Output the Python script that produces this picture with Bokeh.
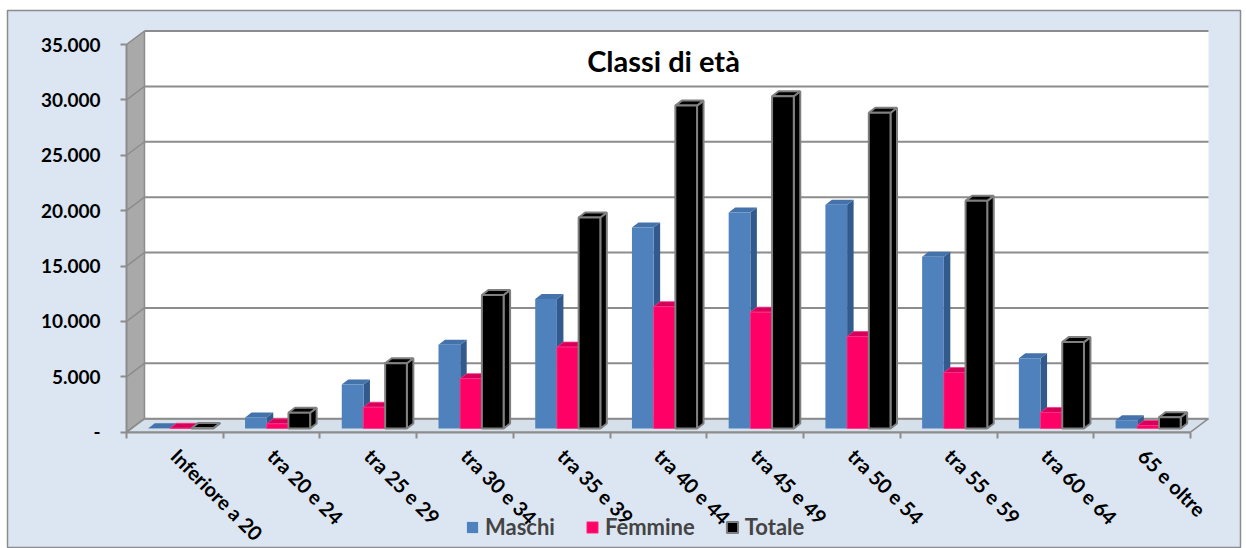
import math
from bokeh.plotting import figure
from bokeh.models import Range1d, FixedTicker, Legend, LegendItem, Label
from bokeh.embed import file_html
from bokeh.resources import INLINE

# ---------------- data ----------------
categories = ["Inferiore a 20", "tra 20 e 24", "tra 25 e 29", "tra 30 e 34", "tra 35 e 39",
              "tra 40 e 44", "tra 45 e 49", "tra 50 e 54", "tra 55 e 59", "tra 60 e 64", "65 e oltre"]
series_names = ["Maschi", "Femmine", "Totale"]
maschi = [30, 1000, 3970, 7550, 11700, 18150, 19500, 20200, 15500, 6350, 750]
femmine = [20, 420, 1920, 4500, 7350, 11000, 10500, 8300, 5050, 1450, 270]
totale = [50, 1420, 5890, 12050, 19050, 29150, 30000, 28500, 20550, 7800, 1020]
y_ticks = [0, 5000, 10000, 15000, 20000, 25000, 30000, 35000]
y_tick_labels = ["-", "5.000", "10.000", "15.000", "20.000", "25.000", "30.000", "35.000"]
title_text = "Classi di età"

# ---------------- geometry (pixels -> data) ----------------
W, H = 1246, 548
FL, FR, FT, FB = 7, 1240, 10, 548          # frame in canvas px
X0_PX, Y0_PX = 126, 431.7                   # front origin
CAT_PX = (1190 - 126) / 11.0
V_PX = (431.7 - 44.0) / 35000.0

def xd(px):
    return (px - X0_PX) / CAT_PX

def yd(py):
    return (Y0_PX - py) / V_PX

DX = 18 / CAT_PX
DY = 13.5 / V_PX
SHIFT_X = 6 / CAT_PX
BASE = 3.7 / V_PX
BW = 21.7 / CAT_PX
BDX = 6.5 / CAT_PX
BDY = 5.0 / V_PX
n = len(categories)
vmax = y_ticks[-1]

FONT = "Lato"
p = figure(width=W, height=H, output_backend="svg", toolbar_location=None,
           x_range=Range1d(xd(FL), xd(FR)), y_range=Range1d(yd(FB), yd(FT)),
           min_border_left=FL, min_border_right=W - FR, min_border_top=FT, min_border_bottom=H - FB,
           background_fill_color="#DCE6F2", border_fill_color="white",
           outline_line_color="#8C8C8C", outline_line_width=1.5)
p.xgrid.visible = False
p.ygrid.visible = False

# side wall
p.patch([0, 0, DX, DX], [0, vmax, vmax + DY, DY], fill_color="#A9A9A9", line_color="#8C8C8C", line_width=1)
# floor
p.patch([0, n, n + DX, DX], [0, 0, DY, DY], fill_color="#D6E0EB", line_color="#8C8C8C", line_width=1.5)
# back wall
p.quad(left=[DX], right=[n + DX], bottom=[DY], top=[vmax + DY], fill_color="white", line_color=None)
# grid lines on back wall and side wall
p.segment(x0=[DX] * len(y_ticks), y0=[t + DY for t in y_ticks], x1=[n + DX] * len(y_ticks),
          y1=[t + DY for t in y_ticks], line_color="#8C8C8C", line_width=2)
p.segment(x0=[0] * len(y_ticks), y0=y_ticks, x1=[DX] * len(y_ticks), y1=[t + DY for t in y_ticks],
          line_color="#8C8C8C", line_width=1.5)
p.segment(x0=[DX], y0=[DY], x1=[DX], y1=[vmax + DY], line_color="#8C8C8C", line_width=1.5)

styles = [
    dict(front="#4F81BD", top="#4472AA", side="#335A8C", line=None, lw=0),
    dict(front="#FF0066", top="#D6005A", side="#B00048", line="#FF3385", lw=0.8),
    dict(front="#000000", top="#000000", side="#000000", line="#808080", lw=2),
]
front_renderers = []
for k, vals in enumerate([maschi, femmine, totale]):
    st = styles[k]
    lefts = [i + 0.5 + SHIFT_X + (k - 1.5) * BW for i in range(n)]
    rights = [l + BW for l in lefts]
    tops = [BASE + v for v in vals]
    side_xs = [[r, r + BDX, r + BDX, r] for r in rights]
    side_ys = [[BASE, BASE + BDY, t + BDY, t] for t in tops]
    top_xs = [[l, r, r + BDX, l + BDX] for l, r in zip(lefts, rights)]
    top_ys = [[t, t, t + BDY, t + BDY] for t in tops]
    p.patches(side_xs, side_ys, fill_color=st["side"], line_color=st["line"], line_width=st["lw"])
    p.patches(top_xs, top_ys, fill_color=st["top"], line_color=st["line"], line_width=st["lw"])
    r = p.quad(left=lefts, right=rights, bottom=[BASE] * n, top=tops,
               fill_color=st["front"], line_color=st["line"], line_width=st["lw"])
    front_renderers.append(r)

# axes
xa = p.xaxis[0]
xa.fixed_location = 0
xa.ticker = FixedTicker(ticks=[i + 0.5 for i in range(n)], minor_ticks=list(range(n + 1)))
xa.major_label_overrides = {i + 0.5: c for i, c in enumerate(categories)}
xa.bounds = (0, n)
xa.major_tick_out = 0
xa.major_tick_in = 0
xa.minor_tick_out = 6
xa.minor_tick_in = 0
xa.minor_tick_line_color = "#8C8C8C"
xa.minor_tick_line_width = 2
xa.axis_line_color = "#8C8C8C"
xa.axis_line_width = 2
xa.major_label_orientation = -math.pi / 4
xa.major_label_standoff = 14
xa.major_label_text_font = FONT
xa.major_label_text_font_style = "bold"
xa.major_label_text_font_size = "20px"
xa.major_label_text_color = "black"

ya = p.yaxis[0]
ya.fixed_location = 0
ya.ticker = FixedTicker(ticks=y_ticks)
ya.major_label_overrides = {t: s for t, s in zip(y_ticks, y_tick_labels)}
ya.bounds = (0, vmax)
ya.major_tick_out = 6
ya.major_tick_in = 0
ya.major_tick_line_color = "#8C8C8C"
ya.major_tick_line_width = 2
ya.minor_tick_out = 0
ya.minor_tick_in = 0
ya.axis_line_color = "#8C8C8C"
ya.axis_line_width = 2
ya.major_label_standoff = 20
ya.major_label_text_font = FONT
ya.major_label_text_font_style = "bold"
ya.major_label_text_font_size = "19px"
ya.major_label_text_color = "black"

# title
p.add_layout(Label(x=xd(663), y=yd(60), text=title_text, text_align="center", text_baseline="middle",
                   text_font=FONT, text_font_style="bold", text_font_size="29px", text_color="black"))

# legend
legend = Legend(items=[LegendItem(label=s, renderers=[r]) for s, r in zip(series_names, front_renderers)],
                orientation="horizontal", location=(458, 8), glyph_width=14, glyph_height=14,
                label_text_font=FONT, label_text_font_style="bold", label_text_font_size="22px",
                label_standoff=6, spacing=30, padding=0, margin=0,
                background_fill_alpha=0, border_line_alpha=0)
p.add_layout(legend)

open("out.html", "w").write(file_html(p, INLINE))
